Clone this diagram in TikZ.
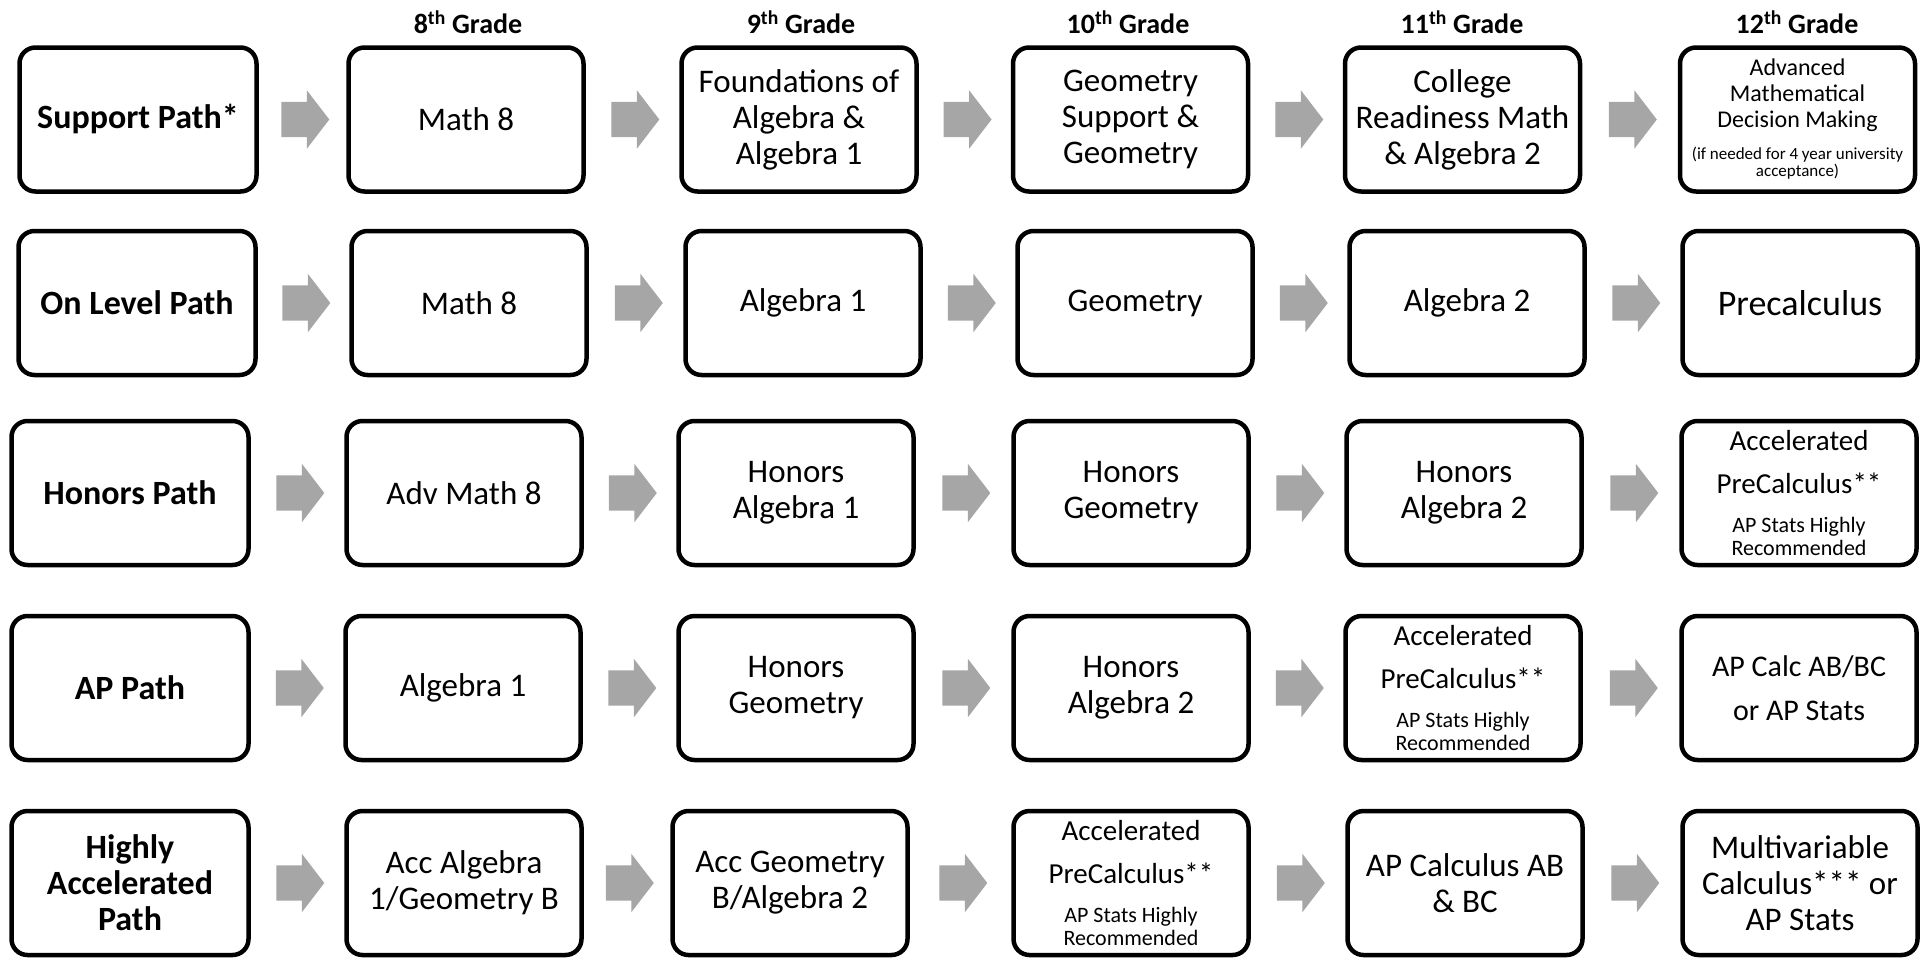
\documentclass[tikz,border=0pt]{standalone}
\usepackage{fontspec}
\setmainfont{Carlito}
\usetikzlibrary{shapes.arrows}

\definecolor{arrowgray}{RGB}{166,166,166}

\begin{document}
\begin{tikzpicture}[x=1pt, y=-1pt,
	course/.style={draw, line width=4.5pt, rounded corners=16pt, minimum width=235pt, minimum height=144pt, inner sep=2pt, align=center, font=\fontsize{33}{36}\selectfont},
	pathbox/.style={course, minimum width=237pt, font=\fontsize{34}{36}\selectfont\bfseries},
	grade/.style={font=\fontsize{28}{30}\selectfont\bfseries},
	blockarrow/.style={single arrow, fill=arrowgray, inner xsep=0pt, inner ysep=17.5pt, minimum height=48pt, single arrow head extend=11.5pt, single arrow tip angle=105, xshift=-4pt}]

	\useasboundingbox (0,0) rectangle (1927,959);

	% Grade headings
	\node[grade] (g8) at (468,22) {8\textsuperscript{th} Grade};
	\node[grade] (g9) at (801,22) {9\textsuperscript{th} Grade};
	\node[grade] (g10) at (1128,22) {10\textsuperscript{th} Grade};
	\node[grade] (g11) at (1462,22) {11\textsuperscript{th} Grade};
	\node[grade] (g12) at (1797,22) {12\textsuperscript{th} Grade};

	% Support path
	\node[pathbox] (sup) at (138,119.5) {Support Path*};
	\node[course] (s8) at (466,119.5) {Math 8};
	\node[course] (s9) at (799,119.5) {Foundations of\\Algebra \&\\Algebra 1};
	\node[course] (s10) at (1130.5,119.5) {Geometry\\Support \&\\Geometry};
	\node[course] (s11) at (1462.5,119.5) {College\\Readiness Math\\\& Algebra 2};
	\node[course, font=\fontsize{24}{26}\selectfont] (s12) at (1797.5,119.5) {Advanced\\Mathematical\\Decision Making\\[6pt]\fontsize{17}{16}\selectfont (if needed for 4 year university\\[-9pt]\fontsize{17}{16}\selectfont acceptance)};

	% On level path
	\node[pathbox] (lvl) at (137,303) {On Level Path};
	\node[course] (l8) at (469,303) {Math 8};
	\node[course] (l9) at (803,303) {Algebra 1};
	\node[course] (l10) at (1135,303) {Geometry};
	\node[course] (l11) at (1467,303) {Algebra 2};
	\node[course, font=\fontsize{36}{40}\selectfont] (l12) at (1800,303) {Precalculus};

	% Honors path
	\node[pathbox] (hon) at (130,493) {Honors Path};
	\node[course] (h8) at (464,493) {Adv Math 8};
	\node[course] (h9) at (796,493) {Honors\\Algebra 1};
	\node[course] (h10) at (1131,493) {Honors\\Geometry};
	\node[course] (h11) at (1464,493) {Honors\\Algebra 2};
	\node[course, font=\fontsize{29}{33}\selectfont] (h12) at (1799,493) {Accelerated\\[10pt]PreCalculus**\\[6pt]\fontsize{22}{23}\selectfont AP Stats Highly\\[-10pt]\fontsize{22}{23}\selectfont Recommended};

	% AP path
	\node[pathbox] (ap) at (130,688) {AP Path};
	\node[course] (a8) at (463,688) {Algebra 1};
	\node[course] (a9) at (796,688) {Honors\\Geometry};
	\node[course] (a10) at (1131,688) {Honors\\Algebra 2};
	\node[course, font=\fontsize{29}{33}\selectfont] (a11) at (1463,688) {Accelerated\\[10pt]PreCalculus**\\[6pt]\fontsize{22}{23}\selectfont AP Stats Highly\\[-10pt]\fontsize{22}{23}\selectfont Recommended};
	\node[course, font=\fontsize{30}{44}\selectfont] (a12) at (1799,688) {AP Calc AB/BC\\or AP Stats};

	% Highly accelerated path
	\node[pathbox] (hac) at (130,883) {Highly\\Accelerated\\Path};
	\node[course] (x8) at (464,883) {Acc Algebra\\1/Geometry B};
	\node[course] (x9) at (790,883) {Acc Geometry\\B/Algebra 2};
	\node[course, font=\fontsize{29}{33}\selectfont] (x10) at (1131,883) {Accelerated\\[10pt]PreCalculus**\\[6pt]\fontsize{22}{23}\selectfont AP Stats Highly\\[-10pt]\fontsize{22}{23}\selectfont Recommended};
	\node[course] (x11) at (1465,883) {AP Calculus AB\\\& BC};
	\node[course] (x12) at (1800,883) {Multivariable\\Calculus*** or\\AP Stats};

	% Gray arrows between the boxes
	\foreach \a/\b in {sup/s8, s8/s9, s9/s10, s10/s11, s11/s12,
			lvl/l8, l8/l9, l9/l10, l10/l11, l11/l12,
			hon/h8, h8/h9, h9/h10, h10/h11, h11/h12,
			ap/a8, a8/a9, a9/a10, a10/a11, a11/a12,
			hac/x8, x8/x9, x9/x10, x10/x11, x11/x12}
		\path (\a.east) -- node[blockarrow] {} (\b.west);

\end{tikzpicture}
\end{document}
